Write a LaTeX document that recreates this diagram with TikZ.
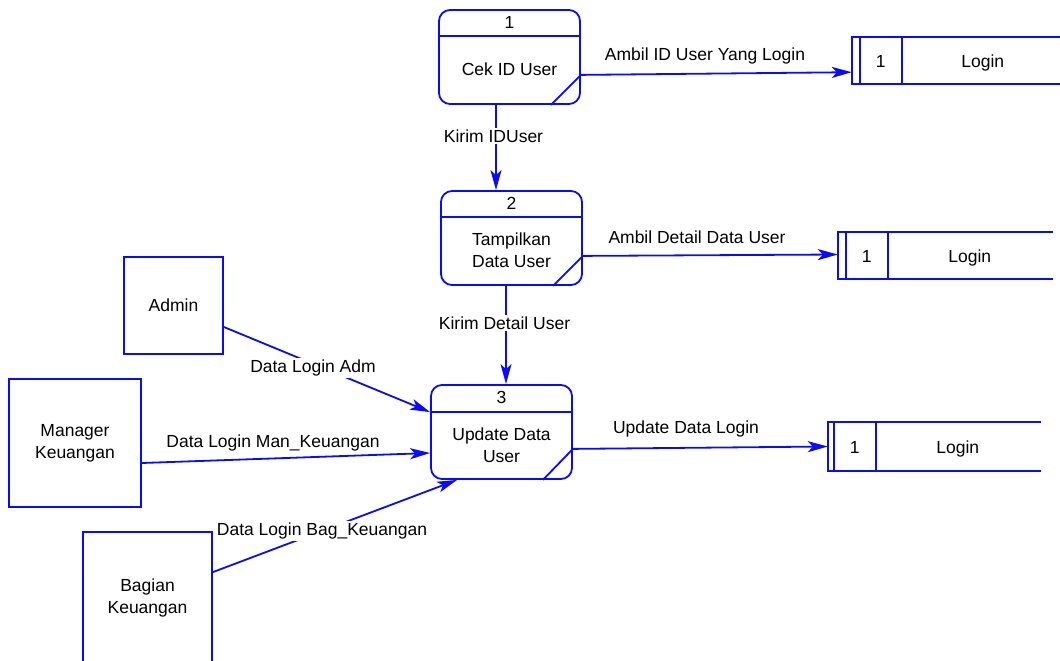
\documentclass[tikz,border=0pt]{standalone}
\usepackage{fontspec}
\setmainfont{Liberation Sans}
\usetikzlibrary{arrows.meta,calc}
\definecolor{dfdblue}{RGB}{10,10,255}
\begin{document}
\begin{tikzpicture}[x=1pt,y=-1pt,
  every node/.style={font=\fontsize{17.5}{22}\selectfont, text=black},
  ln/.style={draw=dfdblue, line width=1.8pt},
  proc/.style={ln, rounded corners=11pt, minimum width=141pt, minimum height=94pt, inner sep=0pt},
  ent/.style={ln, inner sep=0pt, align=center},
  store/.style={inner sep=0pt, minimum height=47pt},
  flow/.style={ln, -{Stealth[length=20pt,width=11pt,inset=5pt]}},
  lbl/.style={fill=white, inner sep=1.5pt},
  txt/.style={align=center, inner sep=0pt},
]
\useasboundingbox (0,0) rectangle (1060,661);
\clip (0,0) rectangle (1060,661);

% ---------- processes ----------
\node[proc] (p1) at (509.5,57) {};
\draw[ln] ($(p1.north west)+(0,27)$) -- ($(p1.north east)+(0,27)$);
\draw[ln] ($(p1.south east)+(-30,0)$) -- ($(p1.south east)+(0,-30)$) coordinate (p1c);
\node (p1num) at ($(p1.north)+(0,13.5)$) {1};
\node[txt] (p1name) at ($(p1.north)+(0,60)$) {Cek ID User};

\node[proc] (p2) at (511.5,238) {};
\draw[ln] ($(p2.north west)+(0,27)$) -- ($(p2.north east)+(0,27)$);
\draw[ln] ($(p2.south east)+(-30,0)$) -- ($(p2.south east)+(0,-30)$) coordinate (p2c);
\node (p2num) at ($(p2.north)+(0,13.5)$) {2};
\node[txt] (p2name) at ($(p2.north)+(0,60)$) {Tampilkan\\Data User};

\node[proc] (p3) at (501.5,432) {};
\draw[ln] ($(p3.north west)+(0,28)$) -- ($(p3.north east)+(0,28)$);
\draw[ln] ($(p3.south east)+(-30,0)$) -- ($(p3.south east)+(0,-31)$) coordinate (p3c);
\node (p3num) at ($(p3.north)+(0,13.5)$) {3};
\node[txt] (p3name) at ($(p3.north)+(0,61)$) {Update Data\\User};

% ---------- data stores ----------
\node[store, minimum width=208pt] (ds1) at (956,60.5) {};
\node[store, minimum width=215pt] (ds2) at (945.5,255.5) {};
\node[store, minimum width=213pt, minimum height=49pt] (ds3) at (934.5,446.5) {};
\foreach \s/\a/\b/\tx/\nx in {ds1/8/50/29/131, ds2/8/50/29/132, ds3/6/48/27/130}{
  \draw[ln] (\s.north east) -- (\s.north west) -- (\s.south west) -- (\s.south east);
  \draw[ln] ($(\s.north west)+(\a,0)$) -- ($(\s.south west)+(\a,0)$);
  \draw[ln] ($(\s.north west)+(\b,0)$) -- ($(\s.south west)+(\b,0)$);
  \node (\s id) at ($(\s.west)+(\tx,1)$) {1};
  \node (\s name) at ($(\s.west)+(\nx,2)$) {Login};
}

% ---------- external entities ----------
\node[ent, minimum width=99pt, minimum height=97pt] (admin) at (173.5,305.5) {Admin};
\node[ent, minimum width=132pt, minimum height=128pt] (mgr) at (75,443) {Manager\\Keuangan};
\node[ent, minimum width=129pt, minimum height=176pt] (bag) at (147.5,620) {};
\node[txt] (bagname) at ($(bag.north)+(0,66.5)$) {Bagian\\Keuangan};

% ---------- data flows ----------
\draw[flow] (p1c) -- ($(ds1.south west)+(0,-12)$);
\draw[flow] ($(p1.south)+(-13.5,0)$) -- ($(p2.north)+(-15.5,0)$);
\draw[flow] (p2c) -- ($(ds2.west)+(0,-1)$);
\draw[flow] ($(p2.south)+(-5.5,0)$) -- ($(p3.north)+(4.5,0)$);
\draw[flow] (p3c) -- (ds3.west);
\draw[flow] ($(admin.east)+(0,21.5)$) -- ($(p3.north west)+(0,28)$);
\draw[flow] ($(mgr.east)+(0,20)$) -- ($(p3.west)+(0,21)$);
\draw[flow] ($(bag.north east)+(0,41)$) -- ($(p3.south west)+(27,0)$);

% ---------- flow labels ----------
\node[lbl] (l1) at (705,56) {Ambil ID User Yang Login};
\node[lbl] (l2) at (493.5,136) {Kirim IDUser};
\node[lbl] (l3) at (697,237) {Ambil Detail Data User};
\node[lbl] (l4) at (504.5,323) {Kirim Detail User};
\node[lbl] (l5) at (686,429) {Update Data Login};
\node[lbl] (l6) at (313,368) {Data Login Adm};
\node[lbl] (l7) at (273,443) {Data Login Man\_Keuangan};
\node[lbl] (l8) at (322,531) {Data Login Bag\_Keuangan};
\end{tikzpicture}
\end{document}
